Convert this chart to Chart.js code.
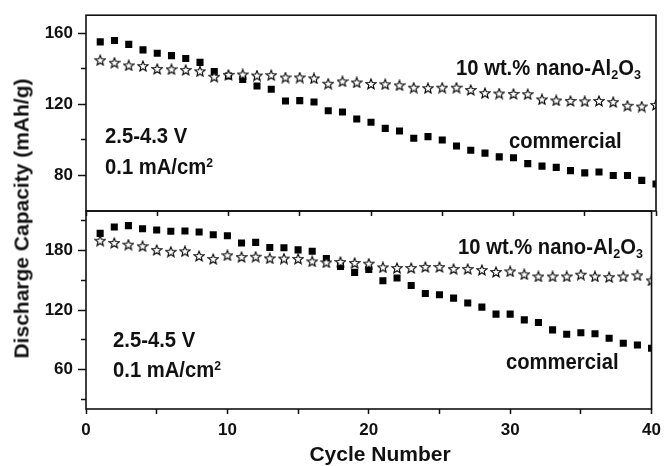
<!DOCTYPE html>
<html><head><meta charset="utf-8">
<script src="https://cdn.jsdelivr.net/npm/chart.js@4.4.0/dist/chart.umd.min.js"></script>
<style>
html,body{margin:0;padding:0;background:#fff;}
#wrap{position:relative;width:667px;height:466px;overflow:hidden;font-family:"Liberation Sans",Arial,sans-serif;font-weight:bold;color:#111;}
canvas{position:absolute;left:0;}
.t{position:absolute;white-space:nowrap;line-height:1;}
.a{font-size:22px;transform:scaleX(0.92);transform-origin:0 0;}
.sub{position:relative;top:0.32em;font-size:0.62em;}
.sup{position:relative;top:-0.55em;font-size:0.6em;}
</style></head><body>
<div id="wrap">
<canvas id="top" width="667" height="230" style="top:0;width:667px;height:230px"></canvas>
<canvas id="bot" width="667" height="275" style="top:191px;width:667px;height:275px"></canvas>
<div class="t a" style="left:456px;top:57px">10 wt.% nano-Al<span class="sub">2</span>O<span class="sub">3</span></div>
<div class="t a" style="left:509px;top:130px">commercial</div>
<div class="t a" style="left:105px;top:125px">2.5-4.3 V</div>
<div class="t a" style="left:105px;top:156px">0.1 mA/cm<span class="sup">2</span></div>
<div class="t a" style="left:458px;top:236px">10 wt.% nano-Al<span class="sub">2</span>O<span class="sub">3</span></div>
<div class="t a" style="left:506px;top:351px">commercial</div>
<div class="t a" style="left:113px;top:329px">2.5-4.5 V</div>
<div class="t a" style="left:113px;top:359px">0.1 mA/cm<span class="sup">2</span></div>
<div class="t" style="left:280px;top:443px;width:200px;text-align:center;font-size:21px">Cycle Number</div>
<div class="t" style="left:-179px;top:208px;width:400px;text-align:center;font-size:21px;transform:rotate(-90deg)">Discharge Capacity (mAh/g)</div>
</div>
<script>
// ---- data ----
const cycles = [1,2,3,4,5,6,7,8,9,10,11,12,13,14,15,16,17,18,19,20,21,22,23,24,25,26,27,28,29,30,31,32,33,34,35,36,37,38,39,40];
const topCommercial = [155.0,155.8,153.6,150.5,148.6,147.3,145.7,143.5,138.3,135.8,133.9,130.2,128.4,121.8,122.0,121.2,116.3,115.6,111.7,109.9,106.4,104.9,100.9,101.8,99.9,96.5,94.1,92.5,90.4,89.9,86.6,85.2,84.5,82.7,81.4,81.9,79.9,79.9,77.2,75.2];
const topNano = [144.7,143.3,141.8,141.4,139.8,139.6,139.2,138.5,135.4,136.5,136.7,136.1,136.3,135.0,135.0,134.5,131.5,132.8,132.2,131.4,131.2,130.6,129.3,129.0,129.3,129.3,128.0,126.2,126.0,125.8,125.6,122.7,122.1,121.8,121.6,121.8,121.2,119.1,118.7,119.6];
const botCommercial = [197.4,203.8,205.2,202.1,200.8,199.5,199.8,198.8,196.0,195.0,187.6,188.3,183.2,182.9,180.7,179.3,171.9,164.1,158.0,161.0,149.6,152.3,144.8,136.7,135.4,132.0,127.0,122.9,115.8,115.8,110.0,107.3,99.9,95.5,97.1,96.1,91.5,86.4,84.7,81.3];
const botNano = [190.0,187.7,186.0,184.4,180.6,178.8,179.3,174.5,171.5,175.3,173.5,173.8,172.2,171.9,171.6,169.1,168.1,168.5,167.5,166.8,163.1,162.4,162.4,163.4,163.4,161.4,161.4,160.4,158.4,159.0,156.0,153.9,153.9,153.9,155.7,153.9,153.2,153.9,155.0,149.9];
const xTicks = [0,5,10,15,20,25,30,35,40];
const xLabels = [0,10,20,30,40];
const topYTicks = [80,100,120,140,160];
const topYLabels = [80,120,160];
const botYTicks = [30,60,90,120,150,180,210];
const botYLabels = [60,120,180];

const INK = '#111';
const FONT = {family:'"Liberation Sans", Arial, sans-serif', size:17, weight:'bold'};

function makeStar(){
  const c = document.createElement('canvas'); c.width = 12; c.height = 12;
  const g = c.getContext('2d');
  g.beginPath();
  for (let i = 0; i < 10; i++) {
    const r = i % 2 === 0 ? 5.3 : 2.3;
    const a = -Math.PI/2 + i*Math.PI/5;
    const px = 6 + r*Math.cos(a), py = 6.4 + r*Math.sin(a);
    if (i) g.lineTo(px, py); else g.moveTo(px, py);
  }
  g.closePath();
  g.fillStyle = '#fff'; g.fill();
  g.lineWidth = 1.1; g.strokeStyle = '#000'; g.stroke();
  return c;
}
const star = makeStar();

const framePlugin = {
  id: 'frame',
  afterDatasetsDraw(chart) {
    const {ctx, chartArea: a} = chart;
    ctx.save();
    ctx.strokeStyle = INK; ctx.lineWidth = 1.6;
    ctx.strokeRect(a.left, a.top, a.right - a.left, a.bottom - a.top);
    ctx.restore();
  }
};

function pts(vals){ return cycles.map((c,i)=>({x:c, y:vals[i]})); }

function makeChart(id, commercial, nano, yMin, yMax, yTicks, yLabels, showXLabels, padTop, xHeight) {
  return new Chart(document.getElementById(id), {
    type: 'scatter',
    data: {
      datasets: [
        {label:'10 wt.% nano-Al2O3', data: pts(nano), pointStyle: star, radius: 5, showLine:false},
        {label:'commercial', data: pts(commercial), pointStyle:'rect', radius:5, backgroundColor:'#000', borderColor:'#000', borderWidth:0, showLine:false}
      ]
    },
    options: {
      responsive:false, animation:false, devicePixelRatio:1, events:[],
      layout:{padding:{top:padTop, right:11, left:0, bottom:0}},
      plugins:{legend:{display:false}, tooltip:{enabled:false}},
      scales:{
        x:{
          type:'linear', min:0, max:40,
          afterBuildTicks:(s)=>{ s.ticks = xTicks.map(v=>({value:v})); },
          afterFit:(s)=>{ s.height = xHeight; },
          ticks:{display:showXLabels, autoSkip:false, maxRotation:0, padding:6, color:INK, font:FONT,
                 callback:(v)=> xLabels.includes(v) ? String(v) : ''},
          grid:{drawOnChartArea:false, drawTicks:true, tickLength:5, tickColor:INK, tickWidth:1.5},
          border:{display:false}
        },
        y:{
          type:'linear', min:yMin, max:yMax,
          afterBuildTicks:(s)=>{ s.ticks = yTicks.map(v=>({value:v})); },
          afterFit:(s)=>{ s.width = 86; },
          ticks:{autoSkip:false, padding:5, color:INK, font:FONT,
                 callback:(v)=> yLabels.includes(v) ? String(v) : ''},
          grid:{drawOnChartArea:false, drawTicks:true, tickLength:8, tickColor:INK, tickWidth:1.5,
                tickBorderDash:(ctx)=> (ctx.tick && yLabels.includes(ctx.tick.value)) ? [] : [0,3,5,100]},
          border:{display:false}
        }
      }
    },
    plugins:[framePlugin]
  });
}

makeChart('top', topCommercial, topNano, 60, 170, topYTicks, topYLabels, false, 12, 19);
makeChart('bot', botCommercial, botNano, 20, 220, botYTicks, botYLabels, true, 20, 57);
</script>
</body></html>
